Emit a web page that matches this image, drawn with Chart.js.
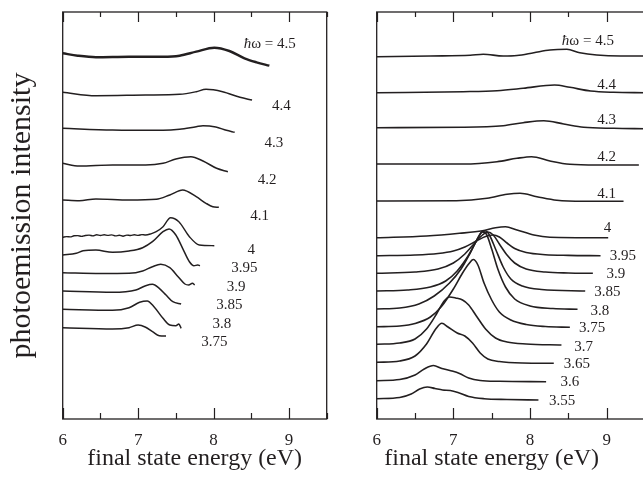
<!DOCTYPE html>
<html>
<head>
<meta charset="utf-8">
<script src="https://cdn.jsdelivr.net/npm/chart.js@4.4.0/dist/chart.umd.min.js"></script>
<style>
  html, body { margin: 0; padding: 0; background: #fff; overflow: hidden; }
  #wrap { position: relative; width: 643px; height: 478px; overflow: hidden; }
  #leftChart { position: absolute; left: 0; top: 0; }
  #rightChart { position: absolute; left: 330px; top: 0; }
</style>
</head>
<body>
<div id="wrap">
  <canvas id="leftChart" width="340" height="478"></canvas>
  <canvas id="rightChart" width="330" height="478"></canvas>
</div>
<script>
// energies (eV) and stacked intensities (arb. units)

// left panel
const L45 = [[6.0, 365.7], [6.2, 363.3], [6.44, 361.8], [6.88, 362.3], [7.33, 362.3], [7.55, 363.3], [7.77, 367.3], [8.01, 371.3], [8.21, 368], [8.41, 360.7], [8.57, 356.7], [8.74, 353.3]];
const L44 = [[6.0, 326.7], [6.44, 323.3], [7.1, 324], [7.55, 324.7], [7.77, 327.3], [7.9, 329.7], [8.12, 327.3], [8.35, 321.7], [8.51, 319]];
const L43 = [[6.0, 290.7], [6.66, 289], [7.33, 288.7], [7.55, 289.7], [7.77, 292.3], [7.86, 293.3], [8.03, 292], [8.17, 288.7], [8.28, 286.7]];
const L42 = [[6.0, 255.7], [6.22, 253], [6.66, 254], [7.1, 254], [7.33, 255.7], [7.5, 260], [7.7, 262.3], [7.86, 258], [8.04, 250.7], [8.19, 247.3]];
const L41 = [[6.0, 219], [6.22, 218.3], [6.44, 220], [6.88, 219], [7.24, 219.7], [7.42, 224], [7.59, 229], [7.77, 222.3], [7.9, 215.7], [7.99, 212.3], [8.07, 211.7]];
const L40 = [[6.0, 181.7], [6.05, 182.4], [6.1, 182.1], [6.15, 183.2], [6.2, 183.4], [6.25, 182.6], [6.3, 183.5], [6.35, 183.9], [6.4, 183.1], [6.45, 184.2], [6.5, 183.5], [6.55, 184.3], [6.6, 183.6], [6.65, 184.1], [6.7, 183.1], [6.75, 183.8], [6.8, 182.8], [6.85, 183.9], [6.9, 183.5], [6.95, 184.3], [7.0, 183.6], [7.05, 184.4], [7.1, 184], [7.17, 185.2], [7.24, 187.3], [7.33, 192.3], [7.43, 201.3], [7.54, 197.3], [7.68, 182.3], [7.81, 174], [8.01, 173.3]];
const L395 = [[6.0, 164], [6.18, 165.7], [6.27, 168.3], [6.44, 169], [6.66, 166.7], [6.88, 168], [7.06, 171.3], [7.19, 177.3], [7.33, 187.3], [7.41, 190], [7.5, 184], [7.59, 170.7], [7.68, 157.3], [7.74, 153.3], [7.79, 154], [7.82, 153.3]];
const L39 = [[6.0, 146.3], [6.5, 145.5], [6.88, 145.7], [7.06, 148], [7.19, 152.3], [7.3, 154.7], [7.42, 151.3], [7.53, 142.3], [7.62, 135], [7.67, 134], [7.72, 135.7], [7.75, 134]];
const L385 = [[6.0, 128], [6.66, 126.7], [6.97, 129], [7.1, 133.3], [7.19, 134.7], [7.28, 130.7], [7.37, 124], [7.46, 117.3], [7.57, 115]];
const L38 = [[6.0, 109.7], [6.66, 108.7], [6.88, 111.3], [7.02, 116.7], [7.12, 118], [7.21, 112.3], [7.33, 100.7], [7.42, 94], [7.5, 93.3], [7.54, 95], [7.57, 90.7]];
const L375 = [[6.0, 91.3], [6.66, 90], [6.88, 91.3], [7.0, 94], [7.1, 91.7], [7.19, 87.3], [7.28, 83.3], [7.37, 83]];

// right panel
const R45 = [[6.0, 362.3], [6.7, 363], [7.22, 363.7], [7.39, 364.7], [7.65, 363], [7.83, 363.5], [8.05, 366.3], [8.26, 369], [8.48, 369.7], [8.65, 366.3], [8.87, 364], [9.18, 363], [9.5, 363]];
const R44 = [[6.0, 326.3], [7.13, 327.3], [7.57, 328.3], [7.91, 330.7], [8.32, 334], [8.52, 331.7], [8.79, 328], [9.09, 326.7], [9.5, 326.3]];
const R43 = [[6.0, 291.3], [7.13, 291.7], [7.65, 293.3], [7.91, 296.3], [8.18, 298.3], [8.44, 295], [8.7, 291.7], [9.09, 290.7], [9.5, 290.3]];
const R42 = [[6.0, 255], [7.13, 255], [7.57, 257.3], [7.83, 260.7], [8.02, 262.3], [8.26, 258], [8.52, 254.7], [8.87, 254], [9.42, 254]];
const R41 = [[6.0, 218], [7.04, 218.3], [7.44, 220.7], [7.7, 224.7], [7.87, 225.7], [8.09, 222.3], [8.35, 218.7], [8.7, 217.7], [9.22, 217.7]];
const R40 = [[6.0, 181.3], [6.65, 183], [7.08, 185.7], [7.38, 188.3], [7.55, 191.3], [7.68, 192.3], [7.83, 189], [8.05, 184], [8.26, 181.8], [9.02, 181.3]];
const R395 = [[6.0, 163.3], [6.5, 164], [6.8, 165.5], [7.0, 168], [7.15, 172], [7.3, 178], [7.42, 182.5], [7.52, 184], [7.6, 182], [7.7, 176], [7.8, 170.5], [7.95, 166.5], [8.2, 164.3], [8.5, 163.6], [8.92, 163.3]];
const R39 = [[6.0, 145.7], [6.5, 147], [6.8, 150], [7.0, 156], [7.15, 165], [7.28, 176], [7.38, 184], [7.45, 187], [7.52, 184], [7.6, 175], [7.7, 164], [7.8, 156], [7.95, 150], [8.2, 147], [8.5, 146], [8.82, 145.7]];
const R385 = [[6.0, 128], [6.4, 129], [6.7, 132], [6.9, 138], [7.05, 148], [7.2, 164], [7.3, 178], [7.37, 187], [7.42, 188], [7.47, 184], [7.55, 170], [7.65, 152], [7.75, 140], [7.9, 133], [8.15, 129.5], [8.72, 128]];
const R38 = [[6.0, 110], [6.3, 111], [6.55, 115], [6.75, 123], [6.95, 136], [7.1, 150], [7.22, 166], [7.32, 181], [7.38, 187], [7.43, 185], [7.5, 170], [7.58, 150], [7.68, 132], [7.8, 120], [8.0, 113], [8.3, 110.5], [8.62, 109.7]];
const R375 = [[6.0, 92.3], [6.3, 93], [6.5, 95.5], [6.7, 102], [6.85, 113], [7.0, 130], [7.12, 146], [7.2, 155], [7.26, 159.5], [7.32, 154], [7.4, 136], [7.5, 119], [7.6, 107], [7.75, 99], [7.95, 94.5], [8.2, 92.5], [8.52, 91.7]];
const R37 = [[6.0, 74.7], [6.3, 76], [6.5, 80], [6.65, 90], [6.78, 105], [6.88, 118], [6.95, 122], [7.03, 121], [7.12, 119], [7.2, 114], [7.3, 103], [7.42, 90], [7.55, 81], [7.7, 77], [7.95, 75], [8.41, 74]];
const R365 = [[6.0, 56.7], [6.3, 58], [6.5, 63], [6.65, 75], [6.77, 90], [6.85, 95.7], [6.93, 92], [7.05, 86], [7.15, 83], [7.25, 76], [7.35, 66], [7.45, 60], [7.6, 57.5], [7.9, 56], [8.31, 55.7]];
const R36 = [[6.0, 38.3], [6.3, 39.5], [6.5, 44], [6.62, 50], [6.74, 53.5], [6.85, 50.5], [6.98, 48], [7.08, 45.5], [7.2, 41], [7.35, 38.5], [7.6, 37.7], [8.21, 37.3]];
const R355 = [[6.0, 20.3], [6.3, 21.5], [6.45, 25], [6.56, 30], [6.66, 32], [6.76, 30.5], [6.86, 29], [6.96, 28.5], [7.06, 26.5], [7.2, 22.5], [7.4, 20.3], [7.7, 19.5], [8.11, 19]];

// curve labels: text, energy, height
const leftLabelText = ['4.4', '4.3', '4.2', '4.1', '4', '3.95', '3.9', '3.85', '3.8', '3.75'];
const leftLabelE = [8.9, 8.8, 8.71, 8.61, 8.5, 8.41, 8.3, 8.21, 8.11, 8.01];
const leftLabelV = [313, 276, 239, 203, 168.5, 151, 132, 113.5, 94.5, 77.3];
const rightLabelText = ['4.4', '4.3', '4.2', '4.1', '4', '3.95', '3.9', '3.85', '3.8', '3.75', '3.7', '3.65', '3.6', '3.55'];
const rightLabelE = [9.0, 9.0, 9.0, 9.0, 9.01, 9.21, 9.12, 9.01, 8.91, 8.81, 8.7, 8.61, 8.52, 8.42];
const rightLabelV = [334, 298.5, 262, 225.3, 190.7, 163.2, 144.8, 126.5, 108.2, 90.7, 72.2, 54.8, 36.5, 18.2];
const photonLabel = '= 4.5';
const leftPhotonAt = [8.40, 375];
const rightPhotonAt = [8.415, 378.2];

const xTickLabels = [6, 7, 8, 9];
const tickMarks = [6, 6.5, 7, 7.5, 8, 8.5, 9, 9.5];

const INK = '#231f20';
const FONT = "'Liberation Serif', 'Times New Roman', serif";

const panelDecor = {
    id: 'panelDecor',
    afterDraw(chart, args, opts) {
        const { ctx, chartArea: a, scales: { x, y } } = chart;
        ctx.save();
        ctx.strokeStyle = INK;
        ctx.lineWidth = 1.3;
        ctx.strokeRect(a.left, a.top, a.right - a.left, a.bottom - a.top);
        ctx.lineWidth = 1.2;
        tickMarks.forEach(v => {
            const px = Math.round(x.getPixelForValue(v)) + 0.5;
            const major = Number.isInteger(v);
            ctx.beginPath();
            ctx.moveTo(px, a.bottom);
            ctx.lineTo(px, a.bottom - (major ? 11 : 6));
            ctx.moveTo(px, a.top);
            ctx.lineTo(px, a.top + (major ? 10 : 5));
            ctx.stroke();
        });

        ctx.fillStyle = INK;
        ctx.font = '15px ' + FONT;
        ctx.textAlign = 'center';
        ctx.textBaseline = 'middle';
        opts.text.forEach((t, i) => {
            ctx.fillText(t, x.getPixelForValue(opts.at[i]), y.getPixelForValue(opts.height[i]));
        });

        // ħω = 4.5
        let px = x.getPixelForValue(opts.photon[0]);
        const py = y.getPixelForValue(opts.photon[1]);
        ctx.textAlign = 'left';
        ctx.font = 'italic 15px ' + FONT;
        ctx.fillText('ħ', px, py);
        px += ctx.measureText('ħ').width;
        ctx.font = '15px ' + FONT;
        ctx.fillText('ω ' + photonLabel, px, py);

        if (opts.xTitleAt != null) {
            ctx.font = '24px ' + FONT;
            ctx.textAlign = 'center';
            ctx.fillText('final state energy (eV)', x.getPixelForValue(opts.xTitleAt), chart.height - 19.5);
        }
        ctx.restore();
    }
};

function makeDatasets(curves, widths) {
    return curves.map((c, i) => ({
        data: c.map(([e, v]) => ({ x: e, y: v })),
        borderColor: INK,
        borderWidth: widths[i],
        pointRadius: 0,
        fill: false,
        cubicInterpolationMode: 'monotone'
    }));
}

function xScale(showTitle) {
    return {
        type: 'linear',
        min: 6,
        max: 9.5,
        afterBuildTicks: s => { s.ticks = xTickLabels.map(v => ({ value: v })); },
        afterFit: s => { s.height = 59; },
        grid: { display: false, drawTicks: false },
        border: { display: false },
        ticks: { color: INK, font: { family: FONT, size: 17 }, padding: 11, maxRotation: 0, autoSkip: false },
        title: {
            display: showTitle,
            text: 'final state energy (eV)',
            color: INK,
            font: { family: FONT, size: 24 },
            padding: { top: 0, bottom: 5 }
        }
    };
}

const leftCurves = [L45, L44, L43, L42, L41, L40, L395, L39, L385, L38, L375];
const leftWidths = [2.4, 1.5, 1.5, 1.5, 1.5, 1.4, 1.5, 1.5, 1.5, 1.5, 1.5];

new Chart(document.getElementById('leftChart'), {
    type: 'line',
    data: { datasets: makeDatasets(leftCurves, leftWidths) },
    options: {
        responsive: false,
        animation: false,
        layout: { padding: { left: 0, right: 13.3, top: 12, bottom: 0 } },
        plugins: {
            legend: { display: false },
            tooltip: { enabled: false },
            panelDecor: { text: leftLabelText, at: leftLabelE, height: leftLabelV, photon: leftPhotonAt }
        },
        scales: {
            x: xScale(true),
            y: {
                type: 'linear',
                min: 0,
                max: 407,
                afterFit: s => { s.width = 62.7; },
                grid: { display: false, drawTicks: false },
                border: { display: false },
                ticks: { display: false },
                title: {
                    display: true,
                    text: 'photoemission intensity',
                    color: INK,
                    font: { family: FONT, size: 30 },
                    padding: { top: 4, bottom: 0 }
                }
            }
        }
    },
    plugins: [panelDecor]
});

const rightCurves = [R45, R44, R43, R42, R41, R40, R395, R39, R385, R38, R375, R37, R365, R36, R355];

new Chart(document.getElementById('rightChart'), {
    type: 'line',
    data: { datasets: makeDatasets(rightCurves, rightCurves.map(() => 1.6)) },
    options: {
        responsive: false,
        animation: false,
        layout: { padding: { left: 46.7, right: 15, top: 12, bottom: 0 } },
        plugins: {
            legend: { display: false },
            tooltip: { enabled: false },
            panelDecor: { text: rightLabelText, at: rightLabelE, height: rightLabelV, photon: rightPhotonAt, xTitleAt: 7.5 }
        },
        scales: {
            x: xScale(false),
            y: {
                type: 'linear',
                min: 0,
                max: 407,
                display: false
            }
        }
    },
    plugins: [panelDecor]
});
</script>
</body>
</html>
